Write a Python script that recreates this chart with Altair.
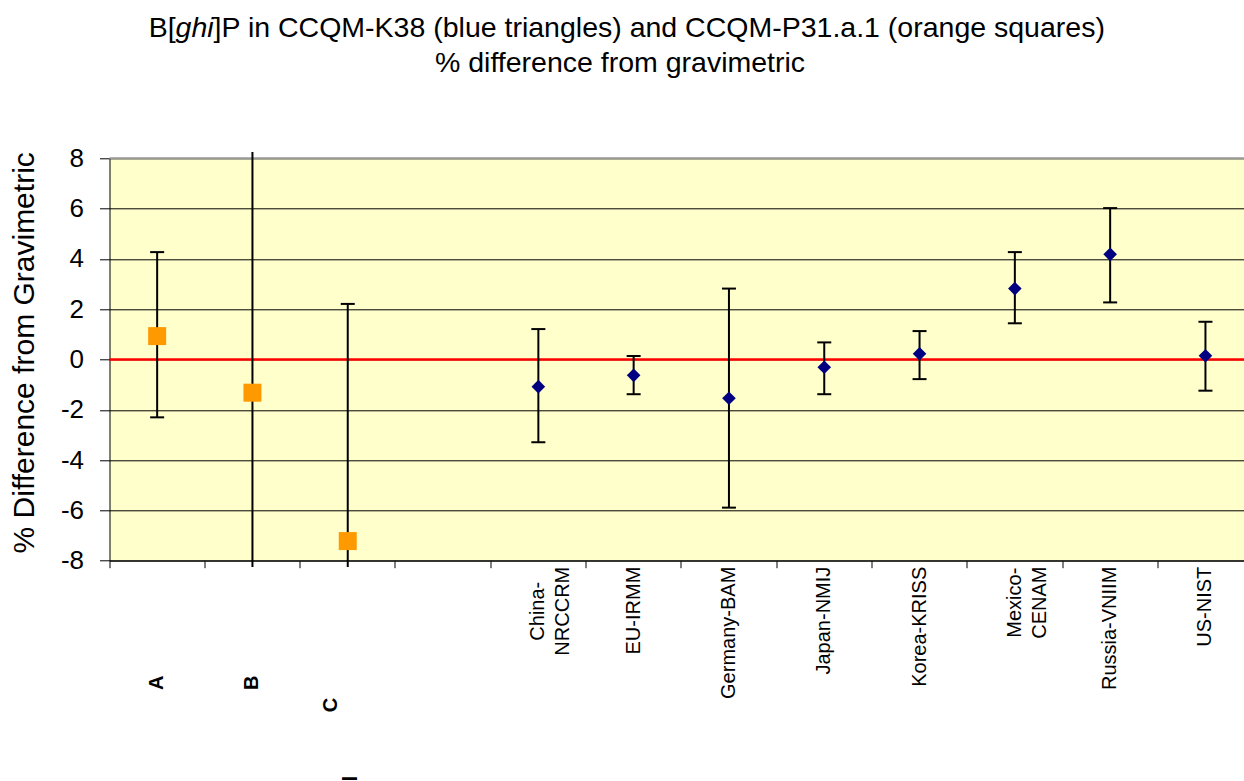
import altair as alt
import pandas as pd

# ---------------- data ----------------
categories = ["A", "B", "C", " ", "China-\nNRCCRM", "EU-IRMM", "Germany-BAM",
              "Japan-NMIJ", "Korea-KRISS", "Mexico-\nCENAM", "Russia-VNIIM", "US-NIST"]

# CCQM-P31.a.1 (orange squares)
p31_cats = ["A", "B", "C"]
p31_value = [0.93, -1.32, -7.22]
p31_upper = [4.27, 8.25, 2.21]      # B / C bars run off the plot (visible extent)
p31_lower = [-2.30, -8.25, -8.25]

# CCQM-K38 (blue diamonds)
k38_cats = ["China-\nNRCCRM", "EU-IRMM", "Germany-BAM", "Japan-NMIJ",
            "Korea-KRISS", "Mexico-\nCENAM", "Russia-VNIIM", "US-NIST"]
k38_value = [-1.08, -0.63, -1.54, -0.31, 0.23, 2.82, 4.18, 0.15]
k38_upper = [1.21, 0.14, 2.82, 0.68, 1.13, 4.27, 6.02, 1.50]
k38_lower = [-3.29, -1.38, -5.89, -1.38, -0.78, 1.44, 2.27, -1.24]

single_line_labs = ["EU-IRMM", "Germany-BAM", "Japan-NMIJ", "Korea-KRISS",
                    "Russia-VNIIM", "US-NIST"]

y_ticks = [-8, -6, -4, -2, 0, 2, 4, 6, 8]

title_pre = "B["
title_ital = "ghi"
title_post = "]P in CCQM-K38 (blue triangles) and CCQM-P31.a.1 (orange squares)"
title_line2 = "% difference from gravimetric"
y_title = "% Difference from Gravimetric"

# ---------------- layout ----------------
W = 1134.5
H = 402.4
BAND_END = 1143.6
FONT = "Liberation Sans"
TITLE_SIZE = 28.5

p31 = pd.DataFrame({"cat": p31_cats, "v": p31_value, "hi": p31_upper, "lo": p31_lower})
k38 = pd.DataFrame({"cat": k38_cats, "v": k38_value, "hi": k38_upper, "lo": k38_lower})
bars = pd.concat([p31, k38], ignore_index=True)
caps = pd.concat([
    pd.DataFrame({"cat": bars["cat"], "e": bars["hi"]}),
    pd.DataFrame({"cat": bars["cat"], "e": bars["lo"]}),
], ignore_index=True)
caps = caps[(caps["e"] <= 8) & (caps["e"] >= -8)]

xscale = alt.Scale(type="band", domain=categories, range=[0, BAND_END],
                   paddingInner=0, paddingOuter=0)
yscale = alt.Scale(domain=[-8, 8], nice=False, zero=False)

x_axis = alt.Axis(labels=False, bandPosition=0, grid=False, title=None,
                  tickSize=7, ticks=True, domain=True)
y_axis = alt.Axis(values=y_ticks, labelExpr="datum.value + ''", title=y_title,
                  grid=True, tickSize=10, labelPadding=16, titlePadding=21,
                  titleY=194)

X = alt.X("cat:N", scale=xscale, axis=x_axis, sort=categories)

def Y(field):
    return alt.Y(field, scale=yscale, axis=y_axis)

top_border = alt.Chart(pd.DataFrame({"b": [8]})).mark_rule(
    color="#999999", strokeWidth=2
).encode(y=Y("b:Q"))

zero_line = alt.Chart(pd.DataFrame({"z": [0]})).mark_rule(
    color="#FF0000", strokeWidth=2.5
).encode(y=Y("z:Q"))

err_rules = alt.Chart(bars).mark_rule(color="black", strokeWidth=2).encode(
    x=X, y=Y("lo:Q"), y2="hi:Q"
)

err_caps = alt.Chart(caps).mark_tick(
    color="black", thickness=2, size=14, orient="horizontal", opacity=1
).encode(x=X, y=Y("e:Q"))

p31_points = alt.Chart(p31).mark_point(
    shape="square", filled=True, size=324, color="#FF9900", opacity=1
).encode(x=X, y=Y("v:Q"))

k38_points = alt.Chart(k38).mark_point(
    shape="diamond", filled=True, size=185, color="#000080", opacity=1
).encode(x=X, y=Y("v:Q"))

def lab_text(cats, ypos, align):
    return alt.Chart(pd.DataFrame({"cat": cats})).mark_text(
        angle=270, align=align, baseline="middle", font=FONT, fontSize=20,
        lineBreak="\n", lineHeight=25, color="black"
    ).encode(x=X, y=alt.value(ypos), text="cat:N")

lab_single = lab_text(single_line_labs, H + 6, "right")
lab_china = lab_text(["China-\nNRCCRM"], H + 6 + 44.5, "center")
lab_mexico = lab_text(["Mexico-\nCENAM"], H + 6 + 36, "center")

ab_labels = alt.Chart(pd.DataFrame({"cat": ["A", "B"]})).mark_text(
    angle=270, align="center", baseline="middle", font=FONT, fontSize=20,
    fontWeight="bold", color="black"
).encode(x=X, y=alt.value(524.4), text="cat:N")

c_label = alt.Chart(pd.DataFrame({"cat": ["C"]})).mark_text(
    angle=270, align="center", baseline="middle", font=FONT, fontSize=20,
    fontWeight="bold", color="black", dy=-17
).encode(x=X, y=alt.value(546.7), text="cat:N")

c_tail = alt.Chart(pd.DataFrame({"cat": ["C"], "t": ["l"]})).mark_text(
    angle=270, align="right", baseline="alphabetic", font=FONT, fontSize=20,
    fontWeight="bold", color="black", dy=9.4
).encode(x=X, y=alt.value(617.7), text="t:N")

def title_piece(txt, xpos, ypos, align="left", style="normal"):
    return alt.Chart(pd.DataFrame({"t": [txt]})).mark_text(
        align=align, baseline="alphabetic", font=FONT, fontSize=TITLE_SIZE,
        fontStyle=style, color="black"
    ).encode(x=alt.value(xpos), y=alt.value(ypos), text="t:N")

t1 = title_piece(title_pre, 39.2, -121.3)
t2 = title_piece(title_ital, 66.1, -121.3, style="italic")
t3 = title_piece(title_post, 104.1, -121.3)
t4 = title_piece(title_line2, 510.5, -86.0, align="center")

chart = alt.layer(
    top_border, zero_line, err_rules, err_caps, p31_points, k38_points,
    lab_single, lab_china, lab_mexico, ab_labels, c_label, c_tail,
    t1, t2, t3, t4,
).properties(
    width=W, height=H,
    autosize=alt.AutoSizeParams(type="none"),
    padding={"left": 109.5, "top": 158.3, "right": 0, "bottom": 220.3},
    background="white",
).configure_view(
    fill="#FFFFCC", stroke="transparent"
).configure_axis(
    labelFont=FONT, labelColor="black", labelFontSize=26,
    titleFont=FONT, titleFontSize=30, titleFontWeight="normal", titleColor="black",
    tickColor="black", tickWidth=1, domainColor="black", domainWidth=1,
    gridColor="black", gridWidth=1, gridOpacity=1,
)

chart.save("out.html", embed_options={"renderer": "svg", "actions": False})
